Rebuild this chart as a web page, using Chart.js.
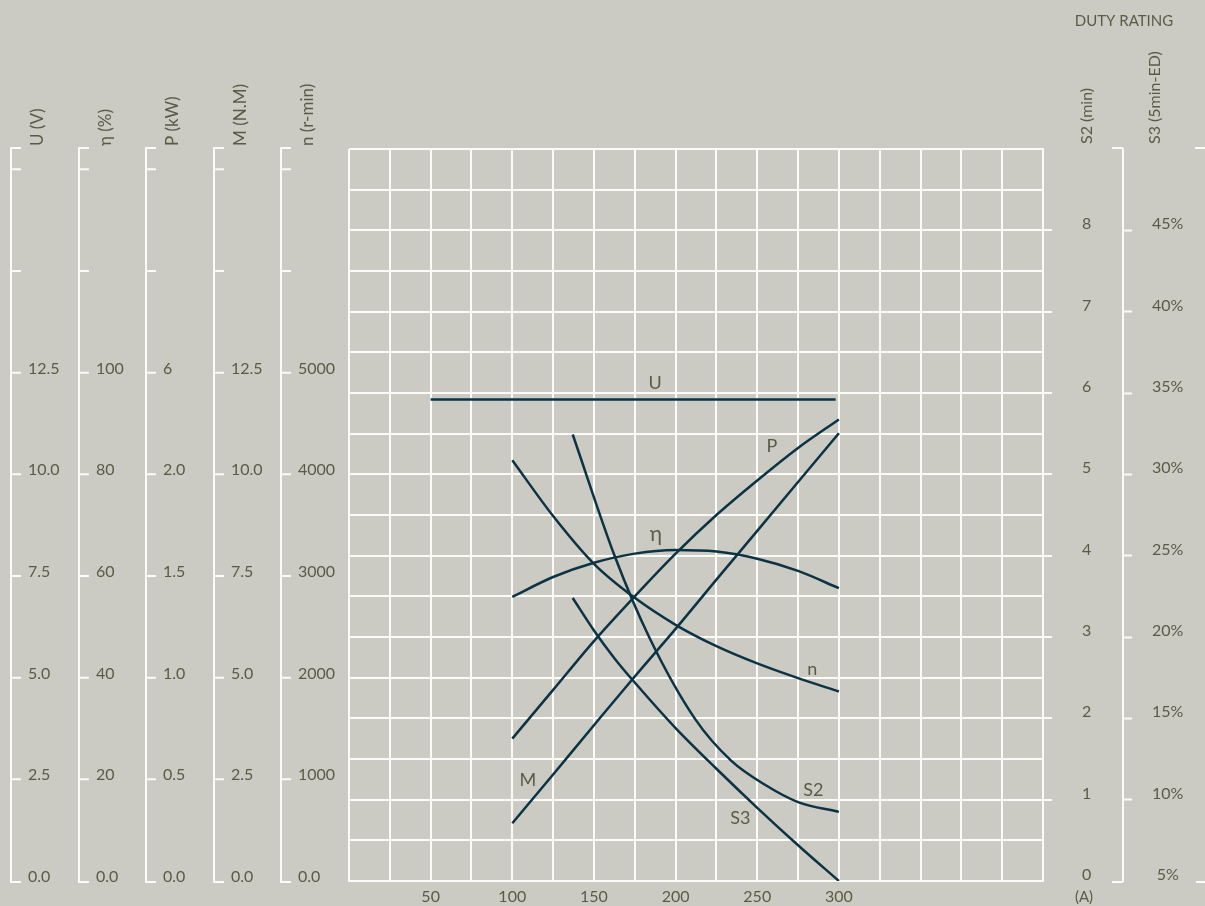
<!DOCTYPE html>
<html>
<head>
<meta charset="utf-8">
<script src="https://cdn.jsdelivr.net/npm/chart.js@4"></script>
<style>
  html, body { margin: 0; padding: 0; background: #cbcbc3; }
  #wrap { width: 1205px; height: 906px; }
</style>
</head>
<body>
<div id="wrap"><canvas id="motorChart" width="1205" height="906"></canvas></div>
<script>
// --- data ---
const currentA  = [100, 125, 150, 175, 200, 225, 250, 275, 300];
const etaPct    = [55.9, 59.8, 62.6, 64.4, 65.1, 64.8, 63.4, 61.0, 57.6];
const powerKW   = [0.70, 0.94, 1.18, 1.40, 1.61, 1.80, 1.97, 2.13, 2.27];
const torqueNm  = [1.42, 2.62, 3.83, 5.03, 6.20, 7.41, 8.61, 9.81, 11.01];
const speedRpm  = [4139, 3590, 3120, 2785, 2520, 2310, 2140, 1995, 1864];

const voltA     = [50, 298];
const voltV     = [11.84, 11.84];

const s2A       = [137, 163, 184, 212, 234, 255, 275, 300];
const s2Min     = [5.49, 3.98, 2.99, 1.99, 1.48, 1.18, 0.97, 0.85];

const s3A       = [137, 150, 162.5, 175, 200, 225, 250, 275, 300];
const s3Pct     = [22.4, 20.4, 18.7, 17.2, 14.4, 11.9, 9.5, 7.2, 5.0];

// tick labels
const xTicks   = ['50', '100', '150', '200', '250', '300'];
const uTicks   = ['0.0', '2.5', '5.0', '7.5', '10.0', '12.5'];
const etaTicks = ['0.0', '20', '40', '60', '80', '100'];
const pTicks   = ['0.0', '0.5', '1.0', '1.5', '2.0', '6'];
const mTicks   = ['0.0', '2.5', '5.0', '7.5', '10.0', '12.5'];
const nTicks   = ['0.0', '1000', '2000', '3000', '4000', '5000'];
const s2Ticks  = ['0', '1', '2', '3', '4', '5', '6', '7', '8'];
const s3Ticks  = ['5%', '10%', '15%', '20%', '25%', '30%', '35%', '40%', '45%'];

const FONT = 'Lato, "Open Sans", sans-serif';
const TXT = '#5a5b47';
const WHITE = '#fbfbf8';
const INK = '#0b3344';

const pts = (xs, ys) => xs.map((x, i) => ({ x: x, y: ys[i] }));

const curve = (data, axis) => ({
    data: data, yAxisID: axis, borderColor: INK, borderWidth: 2.5,
    pointRadius: 0, fill: false, cubicInterpolationMode: 'monotone'
});

// fixed widths for the right axes, no extra label padding top/bottom
const fixRight = w => s => { s.width = w; s.paddingTop = 0; s.paddingBottom = 0; };

// the five stacked axes on the left, drawn with the hidden scales
const leftAxes = [
    { id: 'yU',   x: 11,  step: 2.5,  labels: uTicks,   title: 'U (V)' },
    { id: 'yEta', x: 79,  step: 20,   labels: etaTicks, title: 'η (%)' },
    { id: 'yP',   x: 146, step: 0.5,  labels: pTicks,   title: 'P (kW)' },
    { id: 'yM',   x: 214, step: 2.5,  labels: mTicks,   title: 'M (N.M)' },
    { id: 'yN',   x: 281, step: 1000, labels: nTicks,   title: 'n (r-min)' }
];

const decorPlugin = {
    id: 'decor',
    afterDraw(chart) {
        const ctx = chart.ctx;
        const area = chart.chartArea;
        const sx = chart.scales.x, sy = chart.scales.yS2;
        ctx.save();
        ctx.strokeStyle = WHITE;
        ctx.lineWidth = 2;
        ctx.fillStyle = TXT;

        leftAxes.forEach(ax => {
            const sc = chart.scales[ax.id];
            const top = sc.getPixelForValue(sc.max) - 1;
            const bot = sc.getPixelForValue(0) + 1;
            ctx.beginPath();
            ctx.moveTo(ax.x, top); ctx.lineTo(ax.x, bot);
            ctx.moveTo(ax.x - 1, top); ctx.lineTo(ax.x + 10, top);
            for (let v = 0; v < sc.max; v += ax.step) {
                const y = v === 0 ? bot : sc.getPixelForValue(v);
                ctx.moveTo(ax.x - 1, y); ctx.lineTo(ax.x + 10, y);
            }
            ctx.stroke();
            ctx.font = '16px ' + FONT;
            ctx.textAlign = 'left';
            ctx.textBaseline = 'alphabetic';
            ax.labels.forEach((t, i) => {
                const y = sc.getPixelForValue(i * ax.step);
                ctx.fillText(t, ax.x + 17, y + 1);
            });
            ctx.save();
            ctx.translate(ax.x + 27, top - 2);
            ctx.rotate(-Math.PI / 2);
            ctx.font = '17px ' + FONT;
            ctx.textBaseline = 'middle';
            ctx.fillText(ax.title, 0, 0);
            ctx.restore();
        });

        // end caps of the duty axis
        const s3 = chart.scales.yS3;
        ctx.beginPath();
        ctx.moveTo(s3.left - 11, area.top - 1); ctx.lineTo(s3.left, area.top - 1);
        ctx.moveTo(s3.left - 11, area.bottom + 1); ctx.lineTo(s3.left, area.bottom + 1);
        ctx.moveTo(s3.left + 72, area.top - 1); ctx.lineTo(s3.right, area.top - 1);
        ctx.moveTo(s3.left + 73, area.bottom + 1); ctx.lineTo(s3.right, area.bottom + 1);
        ctx.stroke();

        // right side titles
        ctx.font = '16px ' + FONT;
        ctx.textAlign = 'left';
        ctx.textBaseline = 'middle';
        [['S2 (min)', area.right + 44], ['S3 (5min-ED)', s3.left + 32]].forEach(([t, x]) => {
            ctx.save();
            ctx.translate(x, area.top - 5);
            ctx.rotate(-Math.PI / 2);
            ctx.fillText(t, 0, 0);
            ctx.restore();
        });
        ctx.textAlign = 'center';
        ctx.font = '15px ' + FONT;
        ctx.fillText('DUTY RATING', s3.left + 1, 21);
        ctx.fillText('(A)', area.right + 41, area.bottom + 16);

        // curve names
        [['U', 187.5, 6.12, 18], ['P', 259, 5.35, 18], ['η', 188, 4.26, 21], ['n', 283.7, 2.6, 18],
         ['M', 109.6, 1.24, 18], ['S2', 284.3, 1.12, 18], ['S3', 239.6, 0.77, 18]].forEach(([t, xv, yv, fs]) => {
            ctx.font = fs + 'px ' + FONT;
            ctx.fillText(t, sx.getPixelForValue(xv), sy.getPixelForValue(yv));
        });
        ctx.restore();
    }
};

new Chart(document.getElementById('motorChart'), {
    type: 'line',
    data: {
        datasets: [
            { ...curve(pts(voltA, voltV), 'yU'), cubicInterpolationMode: 'default' },
            curve(pts(currentA, powerKW), 'yP'),
            curve(pts(currentA, torqueNm), 'yM'),
            curve(pts(currentA, etaPct), 'yEta'),
            curve(pts(currentA, speedRpm), 'yN'),
            curve(pts(s2A, s2Min), 'yS2'),
            curve(pts(s3A, s3Pct), 'yS3')
        ]
    },
    options: {
        responsive: false,
        animation: false,
        devicePixelRatio: 1,
        layout: { padding: { left: 349, right: 0, top: 149, bottom: 0 } },
        plugins: { legend: { display: false }, tooltip: { enabled: false } },
        scales: {
            x: {
                type: 'linear', min: 0, max: 425,
                afterFit: s => { s.height = 25; },
                grid: { color: WHITE, lineWidth: 2, drawTicks: false },
                border: { color: WHITE, width: 2 },
                ticks: {
                    stepSize: 25, autoSkip: false, maxRotation: 0, padding: 6,
                    color: TXT, font: { family: FONT, size: 16 },
                    callback: v => xTicks.includes(String(v)) ? String(v) : ''
                }
            },
            yS2: {
                position: 'right', weight: 0, min: 0, max: 9,
                afterFit: fixRight(80),
                grid: {
                    color: WHITE, lineWidth: 2, tickLength: 9, tickWidth: 2,
                    tickColor: c => (c.tick && Number.isInteger(c.tick.value) && c.tick.value > 0 && c.tick.value < 9) ? WHITE : 'rgba(0,0,0,0)'
                },
                border: { color: WHITE, width: 2 },
                ticks: {
                    stepSize: 0.5, autoSkip: false, padding: 30, crossAlign: 'center', labelOffset: -6,
                    color: TXT, font: { family: FONT, size: 16 },
                    callback: v => (Number.isInteger(v) && v < 9) ? s2Ticks[v] : ''
                }
            },
            yS3: {
                position: 'right', weight: 1, min: 5, max: 50,
                afterFit: fixRight(82),
                grid: {
                    drawOnChartArea: false, tickLength: 9, tickWidth: 2,
                    tickColor: c => (c.tick && c.tick.value > 5 && c.tick.value < 50) ? WHITE : 'rgba(0,0,0,0)'
                },
                border: { color: WHITE, width: 2 },
                ticks: {
                    stepSize: 5, autoSkip: false, padding: 20, crossAlign: 'center', labelOffset: -6,
                    color: TXT, font: { family: FONT, size: 16 },
                    callback: v => v < 50 ? s3Ticks[Math.round(v / 5) - 1] : ''
                }
            },
            yU:   { display: false, min: 0, max: 18 },
            yEta: { display: false, min: 0, max: 144 },
            yP:   { display: false, min: 0, max: 3.6 },
            yM:   { display: false, min: 0, max: 18 },
            yN:   { display: false, min: 0, max: 7200 }
        }
    },
    plugins: [decorPlugin]
});
</script>
</body>
</html>
